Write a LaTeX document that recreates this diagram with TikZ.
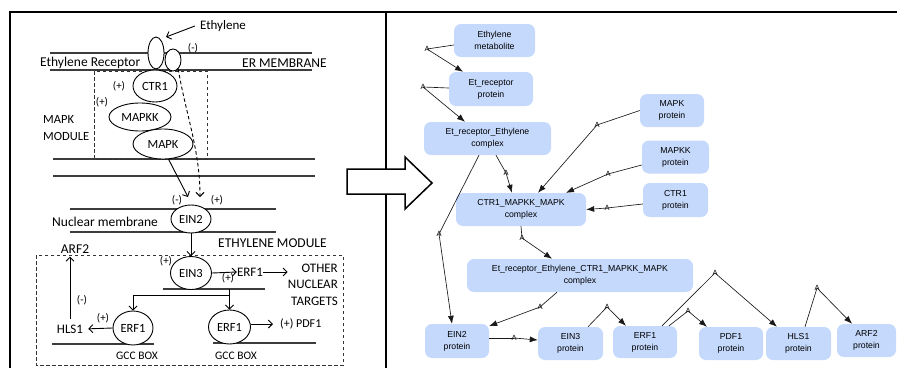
\documentclass[tikz,border=0pt]{standalone}
\usepackage{fontspec}
\setmainfont{Carlito}
\newfontfamily\arialf{Liberation Sans}
\usetikzlibrary{arrows.meta,shapes.geometric}
\definecolor{nodeblue}{RGB}{197,217,252}
\definecolor{memgray}{RGB}{60,60,60}
\begin{document}
\begin{tikzpicture}[x=1pt,y=-1pt,
  lbl/.style={font=\fontsize{13.5}{16.5}\selectfont, inner sep=0pt},
  sml/.style={font=\fontsize{11}{13}\selectfont, inner sep=0pt},
  ell/.style={ellipse, draw, fill=white, line width=0.9pt, inner sep=0pt, font=\fontsize{12.5}{14}\selectfont},
  mem/.style={draw=memgray, line width=1.5pt},
  dbox/.style={draw=black!80, dash pattern=on 3.5pt off 2.5pt, line width=1pt},
  barb/.style={-{Straight Barb[length=4pt,width=8pt]}, line width=0.9pt},
  bnode/.style={rounded corners=7pt, fill=nodeblue, inner sep=0pt, align=center, font=\arialf\fontsize{8.7}{12}\selectfont},
  rxn/.style={inner sep=0pt, font=\arialf\fontsize{7.5}{7.5}\selectfont},
  rline/.style={draw=black!90, line width=0.65pt},
  rarr/.style={rline, -{Latex[length=8pt,width=6pt]}}
]
\useasboundingbox (0,0) rectangle (897,367);

% frame
\draw[line width=2pt] (10,368) -- (10,12) -- (898,12);
\draw[line width=2pt] (386,12) -- (386,368);

% block arrow
\draw[line width=1.5pt, fill=white] (347,169) -- (405,169) -- (405,157) -- (432,183) -- (405,209) -- (405,194) -- (347,194) -- cycle;

% ---------- left panel ----------
\draw[mem] (50,53) -- (312,53);
\draw[mem] (50,70) -- (312,70);
\draw[mem] (53,159) -- (315,159);
\draw[mem] (53,176) -- (315,176);
\draw[mem] (70,209) -- (276,209);
\draw[mem] (70,232) -- (276,232);
\draw[mem] (163,289) -- (265,289);
\draw[mem] (52,344) -- (154,344);
\draw[mem] (213,343) -- (316,343);

\draw[dbox] (94,71) rectangle (207,159);
\draw[dbox] (36,255) rectangle (343,365);

\node[ell, minimum width=16pt, minimum height=32pt] (rec) at (156,53) {};
\node[ell, minimum width=16pt, minimum height=22pt] (rec2) at (173,60) {};

\node[lbl, font=\fontsize{13}{15}\selectfont] (eth) at (223,26) {Ethylene};
\coordinate (ethtip) at (166,37);
\draw[barb] ([xshift=-5pt]eth.west) -- (ethtip);
\node[sml] at (193,48) {(-)};
\node[lbl, anchor=west] at (40,63) {Ethylene Receptor};
\node[lbl, anchor=west] at (242,63) {ER MEMBRANE};

\node[ell, minimum width=44pt, minimum height=32pt] (ctr1) at (155,86) {CTR1};
\node[ell, minimum width=62pt, minimum height=28pt] (mapkk) at (140,117) {MAPKK};
\node[ell, minimum width=60pt, minimum height=30pt] (mapk) at (163,144) {MAPK};
\node[sml] at (119,86) {(+)};
\node[sml] at (102,102) {(+)};
\node[lbl, align=left, anchor=west, font=\fontsize{12.5}{17}\selectfont] at (43,128.5) {MAPK\\MODULE};

\coordinate (in1) at (188,197);
\coordinate (in2) at (200,197);
\draw[barb] (mapk.-70) -- (in1);
\draw[barb, dash pattern=on 3.5pt off 2.5pt] (rec2.-60) .. controls (186,115) and (200,150) .. (in2);

\node[sml] at (177,200) {(-)};
\node[sml] at (217,200) {(+)};
\node[ell, minimum width=40pt, minimum height=28pt] (ein2) at (191,219) {EIN2};
\node[lbl, anchor=west] at (52,222) {Nuclear membrane};
\node[ell, minimum width=41pt, minimum height=33pt] (ein3) at (191,273) {EIN3};
\draw[barb] (ein2) -- (ein3);
\node[lbl, anchor=west] at (218,243) {ETHYLENE MODULE};
\node[lbl] (arf2) at (75,249) {ARF2};
\node[sml] at (166,261) {(+)};
\node[lbl, font=\fontsize{13}{15}\selectfont] (erf1t) at (250,272) {ERF1};
\draw[barb] (ein3.east) -- (erf1t.west);
\node[sml] at (228,278) {(+)};
\node[lbl, align=right, anchor=east, font=\fontsize{13}{16.5}\selectfont] (targets) at (338,284.5) {OTHER\\NUCLEAR\\TARGETS};
\draw[barb] (erf1t.east) -- (erf1t.east -| targets.west);

\node[ell, minimum width=40pt, minimum height=34pt] (erf1a) at (133,328) {ERF1};
\node[ell, minimum width=42pt, minimum height=34pt] (erf1b) at (229.5,327) {ERF1};
\draw[barb] (erf1b.north |- 0,289) -- (erf1b.north);
\draw[barb] (erf1b.north |- 0,295) -| (erf1a.north);

\node[lbl, font=\fontsize{13}{15}\selectfont] (hls1) at (70,329) {HLS1};
\draw[barb, shorten >=5pt] (erf1a.west) -- (hls1.east);
\node[sml] at (103,318) {(+)};
\draw[barb, shorten <=6pt, shorten >=3pt] (hls1.north) -- (hls1.north |- arf2.south);
\node[sml] at (82,300) {(-)};
\node[sml, font=\fontsize{11.5}{13}\selectfont] at (137,356) {GCC BOX};
\node[sml, font=\fontsize{11.5}{13}\selectfont] at (236,356) {GCC BOX};
\node[sml, anchor=west, font=\fontsize{12}{14}\selectfont] (pdf1) at (280,324) {(+) PDF1};
\draw[barb, shorten >=7pt] (erf1b.east |- pdf1.west) -- (pdf1.west);

% ---------- right panel ----------
\node[bnode, minimum width=81pt, minimum height=33pt] (em) at (494.5,40.5) {Ethylene\\metabolite};
\node[bnode, minimum width=84pt, minimum height=34pt] (er) at (491,89) {Et\_receptor\\protein};
\node[bnode, minimum width=127pt, minimum height=33pt] (erc) at (487.5,138.5) {Et\_receptor\_Ethylene\\complex};
\node[bnode, minimum width=64pt, minimum height=33pt] (mapkp) at (672,110.5) {MAPK\\protein};
\node[bnode, minimum width=67pt, minimum height=33pt] (mapkkp) at (675.5,157) {MAPKK\\protein};
\node[bnode, minimum width=65pt, minimum height=34pt] (ctr1p) at (675.5,200) {CTR1\\protein};
\node[bnode, minimum width=130pt, minimum height=33pt] (cmm) at (521,209.5) {CTR1\_MAPKK\_MAPK\\complex};
\node[bnode, minimum width=226pt, minimum height=33pt] (big) at (580,275.5) {Et\_receptor\_Ethylene\_CTR1\_MAPKK\_MAPK\\complex};
\node[bnode, minimum width=64pt, minimum height=34pt] (ein2p) at (457,341) {EIN2\\protein};
\node[bnode, minimum width=65pt, minimum height=33pt] (ein3p) at (570.5,343.5) {EIN3\\protein};
\node[bnode, minimum width=64pt, minimum height=32pt] (erf1p) at (645,342) {ERF1\\protein};
\node[bnode, minimum width=64pt, minimum height=33pt] (pdf1p) at (731,343.5) {PDF1\\protein};
\node[bnode, minimum width=65pt, minimum height=33pt] (hls1p) at (798.5,343.5) {HLS1\\protein};
\node[bnode, minimum width=59pt, minimum height=33pt] (arf2p) at (866.5,340.5) {ARF2\\protein};

\node[rxn] (a1) at (427,49) {A};
\node[rxn] (a2) at (423,87) {A};
\node[rxn] (a3) at (506,173) {A};
\node[rxn] (a4) at (597,125) {A};
\node[rxn] (a5) at (608,174) {A};
\node[rxn] (a6) at (607,208) {A};
\node[rxn] (a7) at (522,238) {A};
\node[rxn] (a8) at (439,234) {A};
\node[rxn] (a9) at (540,307) {A};
\node[rxn] (a10) at (514,338) {A};
\node[rxn] (a11) at (607,307) {A};
\node[rxn] (a12) at (688,311) {A};
\node[rxn] (a13) at (715,273) {A};
\node[rxn] (a14) at (817,288) {A};

\draw[rline] (em.west |- 0,45) -- (a1.center);
\draw[rarr] (a1.center) -- (er.north -| 463,0);
\draw[rline] (er.west |- 0,88) -- (a2.center);
\draw[rarr] (a2.center) -- (erc.north -| 465,0);
\draw[rline] (erc.south -| 496,0) -- (a3.center);
\draw[rarr] (a3.center) -- (cmm.north -| 512,0);
\draw[rline] (mapkp.west) -- (a4.center);
\draw[rarr] (a4.center) -- (cmm.north -| 538,0);
\draw[rline] (mapkkp.west |- 0,165) -- (a5.center);
\draw[rarr] (a5.center) -- (cmm.north -| 566,0);
\draw[rline] (ctr1p.west |- 0,204) -- (a6.center);
\draw[rarr] (a6.center) -- (cmm.east);
\draw[rline] (cmm.south -| 521,0) -- (a7.center);
\draw[rarr] (a7.center) -- (big.north -| 552,0);
\draw[rline] (erc.south -| 479,0) -- (a8.center);
\draw[rarr] (a8.center) -- (ein2p.north -| 452,0);
\draw[rline] (big.south -| 557,0) -- (a9.center);
\draw[rarr] (a9.center) -- (ein2p.east |- 0,326);
\draw[rline] (ein2p.east |- 0,338) -- (a10.center);
\draw[rarr] (a10.center) -- (ein3p.west |- 0,340);
\draw[rline] (ein3p.north -| 588,0) -- (a11.center);
\draw[rarr] (a11.center) -- (erf1p.north -| 626,0);
\draw[rline] (erf1p.north -| 669,0) -- (a12.center);
\draw[rarr] (a12.center) -- (pdf1p.north -| 707,0);
\draw[rline] (erf1p.north -| 662,0) -- (a13.center);
\draw[rarr] (a13.center) -- (hls1p.north -| 777,0);
\draw[rline] (hls1p.north -| 805,0) -- (a14.center);
\draw[rarr] (a14.center) -- (arf2p.north -| 852,0);
\end{tikzpicture}
\end{document}
